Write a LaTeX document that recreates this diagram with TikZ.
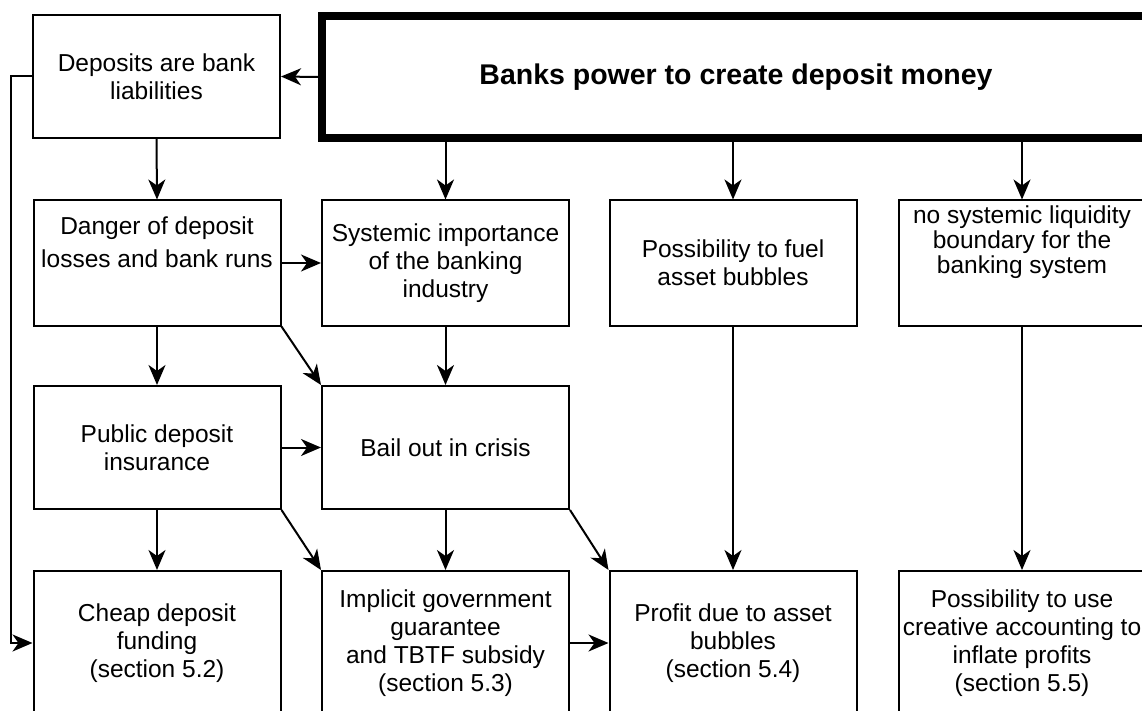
\documentclass[tikz,border=0pt]{standalone}
\usepackage{fontspec}
\setmainfont{Liberation Sans}
\usetikzlibrary{arrows.meta}

\begin{document}
\begin{tikzpicture}[x=1pt,y=-1pt,
		box/.style={draw,line width=2pt,minimum width=247pt,inner sep=0pt,align=center,font=\fontsize{24.5}{28}\selectfont},
		conn/.style={line width=2pt,-{Stealth[length=20pt,width=17pt,inset=6pt]}}]
			\clip (0,0) rectangle (1142,711);
			\node[draw,line width=8pt,minimum width=828pt,minimum height=122pt,font=\bfseries\fontsize{28.5}{32}\selectfont] (Pw) at (736,77) {Banks power to create deposit money};
			\node[box,minimum height=123pt] (Dp) at (156.5,76.5) {Deposits are bank\\liabilities};
			
			\node[box,minimum height=125pt] (Dr) at (157,263) {Danger of deposit\\[5pt]losses and bank runs\\[14pt]\mbox{}};
			\node[box,minimum height=125pt] (Si) at (445.5,263) {Systemic importance\\of the banking\\industry};
			\node[box,minimum height=125pt] (Fb) at (733,263) {Possibility to fuel\\asset bubbles};
			\node[box,minimum height=125pt] (Lb) at (1022,263) {no systemic liquidity\\[-3pt]boundary for the\\[-3pt]banking system\\[18pt]\mbox{}};
			
			\node[box,minimum height=123pt] (Pi) at (157,447.5) {Public deposit\\insurance};
			\node[box,minimum height=123pt] (Bo) at (445.5,447.5) {Bail out in crisis};
			
			\node[box,minimum height=144pt] (Cf) at (157,643) {Cheap deposit\\funding\\(section 5.2)};
			\node[box,minimum height=144pt] (Ig) at (445.5,643) {Implicit government\\guarantee\\and TBTF subsidy\\(section 5.3)};
			\node[box,minimum height=144pt] (Pb) at (733,643) {Profit due to asset\\bubbles\\(section 5.4)};
			\node[box,minimum height=144pt] (Ca) at (1022,643) {Possibility to use\\creative accounting to\\inflate profits\\(section 5.5)};
			
			\draw [conn] (Pw.west) -- (Dp.east);
			\draw [conn] (Pw.south -| Si.north) -- (Si.north);
			\draw [conn] (Pw.south -| Fb.north) -- (Fb.north);
			\draw [conn] (Pw.south -| Lb.north) -- (Lb.north);
			\draw [conn] (Dp.south) -- (Dr.north);
			\draw [conn] (Dp.west) -- ++(-21,0) |- (Cf.west);
			
			\draw [conn] (Dr.east) -- (Si.west);
			\draw [conn] (Dr.south) -- (Pi.north);
			\draw [conn] (Dr.south east) -- (Bo.north west);
			\draw [conn] (Si.south) -- (Bo.north);
			\draw [conn] (Fb.south) -- (Pb.north);
			\draw [conn] (Lb.south) -- (Ca.north);
			
			\draw [conn] (Pi.east) -- (Bo.west);
			\draw [conn] (Pi.south) -- (Cf.north);
			\draw [conn] (Pi.south east) -- (Ig.north west);
			\draw [conn] (Bo.south) -- (Ig.north);
			\draw [conn] (Bo.south east) -- (Pb.north west);
			\draw [conn] (Ig.east) -- (Pb.west);
\end{tikzpicture}
\end{document}
